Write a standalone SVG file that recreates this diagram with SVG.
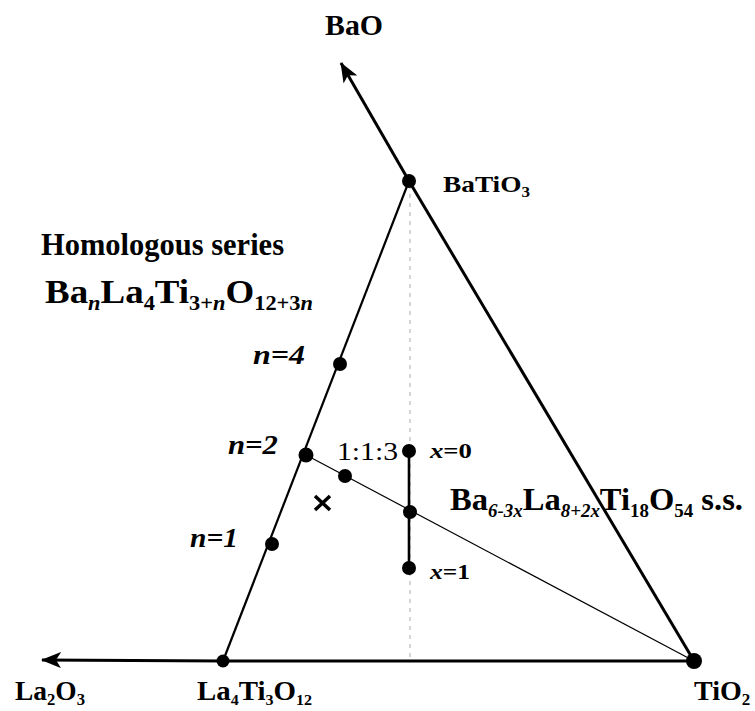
<svg xmlns="http://www.w3.org/2000/svg" width="755" height="711" viewBox="0 0 755 711">
<defs>
<style>
text{font-family:"Liberation Serif","Times New Roman",serif;fill:#000}
.b{font-weight:bold}
.i{font-style:italic;font-weight:bold}
.dot{fill:#000}
</style>
<marker id="arr2" viewBox="0 0 20 16" refX="19" refY="8" markerWidth="20" markerHeight="16" markerUnits="userSpaceOnUse" orient="auto">
<path d="M0,0 L20,8 L0,16 L5,8 Z" fill="#000"/>
</marker>
</defs>
<rect width="755" height="711" fill="#fff"/>
<g id="connectors" fill="none" stroke="#000">
<line x1="409" y1="181" x2="341" y2="63" stroke-width="3" marker-end="url(#arr2)"/>
<line x1="223" y1="661" x2="42" y2="660" stroke-width="3" marker-end="url(#arr2)"/>
<line x1="223" y1="661" x2="694" y2="661" stroke-width="3"/>
<line x1="409" y1="181" x2="694" y2="661" stroke-width="3"/>
<line x1="409" y1="181" x2="223" y2="661" stroke-width="2.2"/>
<line x1="410" y1="185" x2="410" y2="660" stroke="#aaa" stroke-width="1" stroke-dasharray="4,5"/>
<line x1="306" y1="455" x2="694" y2="661" stroke-width="1.2"/>
<line x1="409" y1="451" x2="409" y2="568" stroke-width="2.6"/>
<path d="M315,496 L330,510 M330,496 L315,510" stroke-width="3.5"/>
</g>
<g id="BaO"><text class="b" x="325" y="35" font-size="30" textLength="58" lengthAdjust="spacingAndGlyphs">BaO</text></g>
<g id="BaTiO3"><circle class="dot" cx="409" cy="181" r="7"/><text class="b" x="443" y="192" font-size="24" textLength="87" lengthAdjust="spacingAndGlyphs">BaTiO<tspan font-size="15" dy="5">3</tspan></text></g>
<g id="series">
<text class="b" x="41" y="255" font-size="31" textLength="243" lengthAdjust="spacingAndGlyphs">Homologous series</text>
<text class="b" x="45" y="303" font-size="33" textLength="268" lengthAdjust="spacingAndGlyphs">Ba<tspan font-size="20" dy="7" font-style="italic">n</tspan><tspan dy="-7">La</tspan><tspan font-size="20" dy="7">4</tspan><tspan dy="-7">Ti</tspan><tspan font-size="20" dy="7">3+<tspan font-style="italic">n</tspan></tspan><tspan dy="-7">O</tspan><tspan font-size="20" dy="7">12+3<tspan font-style="italic">n</tspan></tspan></text>
</g>
<g id="n4"><circle class="dot" cx="340" cy="364" r="7"/><text class="i" x="253" y="364" font-size="27" textLength="52" lengthAdjust="spacingAndGlyphs">n=4</text></g>
<g id="n2"><circle class="dot" cx="306" cy="455" r="7.5"/><text class="i" x="228" y="454" font-size="27" textLength="50" lengthAdjust="spacingAndGlyphs">n=2</text></g>
<g id="n1"><circle class="dot" cx="272" cy="544" r="7"/><text class="i" x="190" y="547" font-size="27" textLength="48" lengthAdjust="spacingAndGlyphs">n=1</text></g>
<g id="p113"><circle class="dot" cx="345" cy="476" r="7"/><text x="337" y="460" font-size="26" textLength="61" lengthAdjust="spacingAndGlyphs">1:1:3</text></g>
<g id="x0"><circle class="dot" cx="409" cy="451" r="7"/><text x="430" y="458" font-size="20" font-style="italic" font-weight="bold" textLength="42" lengthAdjust="spacingAndGlyphs">x<tspan font-style="normal">=0</tspan></text></g>
<g id="xmid"><circle class="dot" cx="410" cy="512" r="7"/></g>
<g id="x1"><circle class="dot" cx="409" cy="568" r="7"/><text x="430" y="579" font-size="20" font-style="italic" font-weight="bold" textLength="40" lengthAdjust="spacingAndGlyphs">x<tspan font-style="normal">=1</tspan></text></g>
<g id="ss"><text class="b" x="450" y="510" font-size="31" textLength="293" lengthAdjust="spacingAndGlyphs">Ba<tspan font-size="18" dy="7" font-style="italic">6-3x</tspan><tspan dy="-7">La</tspan><tspan font-size="18" dy="7" font-style="italic">8+2x</tspan><tspan dy="-7">Ti</tspan><tspan font-size="18" dy="7">18</tspan><tspan dy="-7">O</tspan><tspan font-size="18" dy="7">54</tspan><tspan dy="-7"> s.s.</tspan></text></g>
<g id="La2O3"><text class="b" x="15" y="700" font-size="28" textLength="70" lengthAdjust="spacingAndGlyphs">La<tspan font-size="17" dy="5">2</tspan><tspan dy="-5">O</tspan><tspan font-size="17" dy="5">3</tspan></text></g>
<g id="La4Ti3O12"><circle class="dot" cx="223" cy="661" r="6.5"/><text class="b" x="197" y="700" font-size="27" textLength="115" lengthAdjust="spacingAndGlyphs">La<tspan font-size="15" dy="5">4</tspan><tspan dy="-5">Ti</tspan><tspan font-size="15" dy="5">3</tspan><tspan dy="-5">O</tspan><tspan font-size="15" dy="5">12</tspan></text></g>
<g id="TiO2"><circle class="dot" cx="694" cy="661" r="8"/><text class="b" x="694" y="700" font-size="28">TiO<tspan font-size="17" dy="5">2</tspan></text></g>
</svg>
